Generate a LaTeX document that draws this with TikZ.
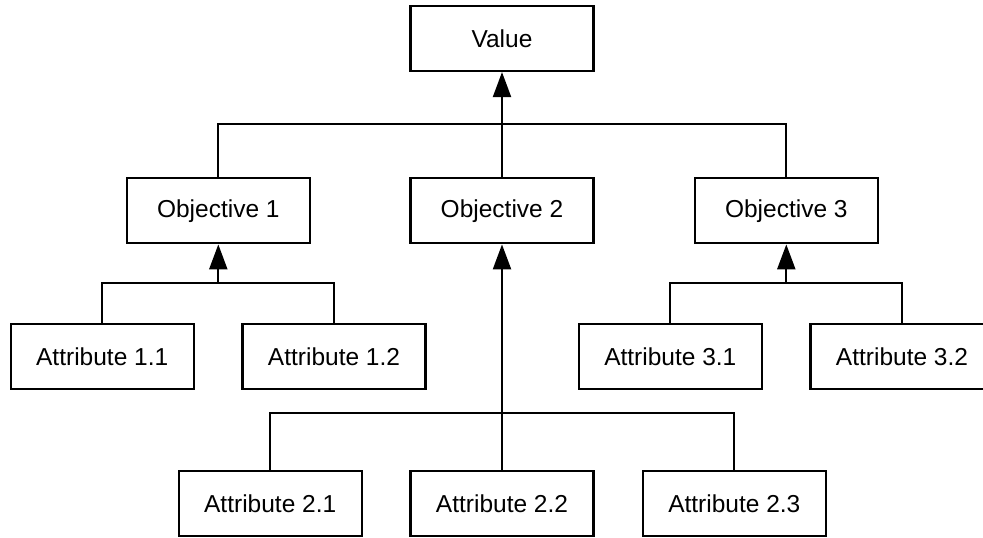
\documentclass[tikz,border=0pt]{standalone}
\usepackage{fontspec}
\setmainfont{Liberation Sans}
\usetikzlibrary{arrows.meta}
\begin{document}
\begin{tikzpicture}[x=1pt,y=-1pt,
  box/.style={draw, line width=2.2pt, fill=white, minimum width=183pt, minimum height=65pt,
    inner sep=0pt, font=\fontsize{24.5}{28}\selectfont},
  link/.style={line width=2.2pt},
  up/.style={link, -{Triangle[length=25pt,width=18pt]}}]
\useasboundingbox (0,0) rectangle (983,538);

% top level
\node[box] (val) at (502,38.5) {Value};

% objectives
\node[box] (o1) at (218.3,210.8) {Objective 1};
\node[box] (o2) at (502,210.8) {Objective 2};
\node[box] (o3) at (786.3,210.8) {Objective 3};

% attributes
\node[box] (a11) at (102.2,356.5) {Attribute 1.1};
\node[box] (a12) at (334,356.5) {Attribute 1.2};
\node[box] (a31) at (670.3,356.5) {Attribute 3.1};
\node[box] (a32) at (902,356.5) {Attribute 3.2};
\node[box] (a21) at (270.2,503.5) {Attribute 2.1};
\node[box] (a22) at (502,503.5) {Attribute 2.2};
\node[box] (a23) at (734.3,503.5) {Attribute 2.3};

% junction levels
\coordinate (j0) at (502,124);
\coordinate (j1) at (218.3,283.3);
\coordinate (j3) at (786.3,283.3);
\coordinate (j2) at (502,413.3);

% objectives -> value
\draw[link] (o1.north) -- (o1.north |- j0) -- (o3.north |- j0) -- (o3.north);
\draw[up] (o2.north) -- (val.south);

% attributes -> objective 1
\draw[link] (a11.north) -- (a11.north |- j1) -- (a12.north |- j1) -- (a12.north);
\draw[up] (j1) -- (o1.south);

% attributes -> objective 3
\draw[link] (a31.north) -- (a31.north |- j3) -- (a32.north |- j3) -- (a32.north);
\draw[up] (j3) -- (o3.south);

% attributes -> objective 2
\draw[link] (a21.north) -- (a21.north |- j2) -- (a23.north |- j2) -- (a23.north);
\draw[up] (a22.north) -- (o2.south);
\end{tikzpicture}
\end{document}
